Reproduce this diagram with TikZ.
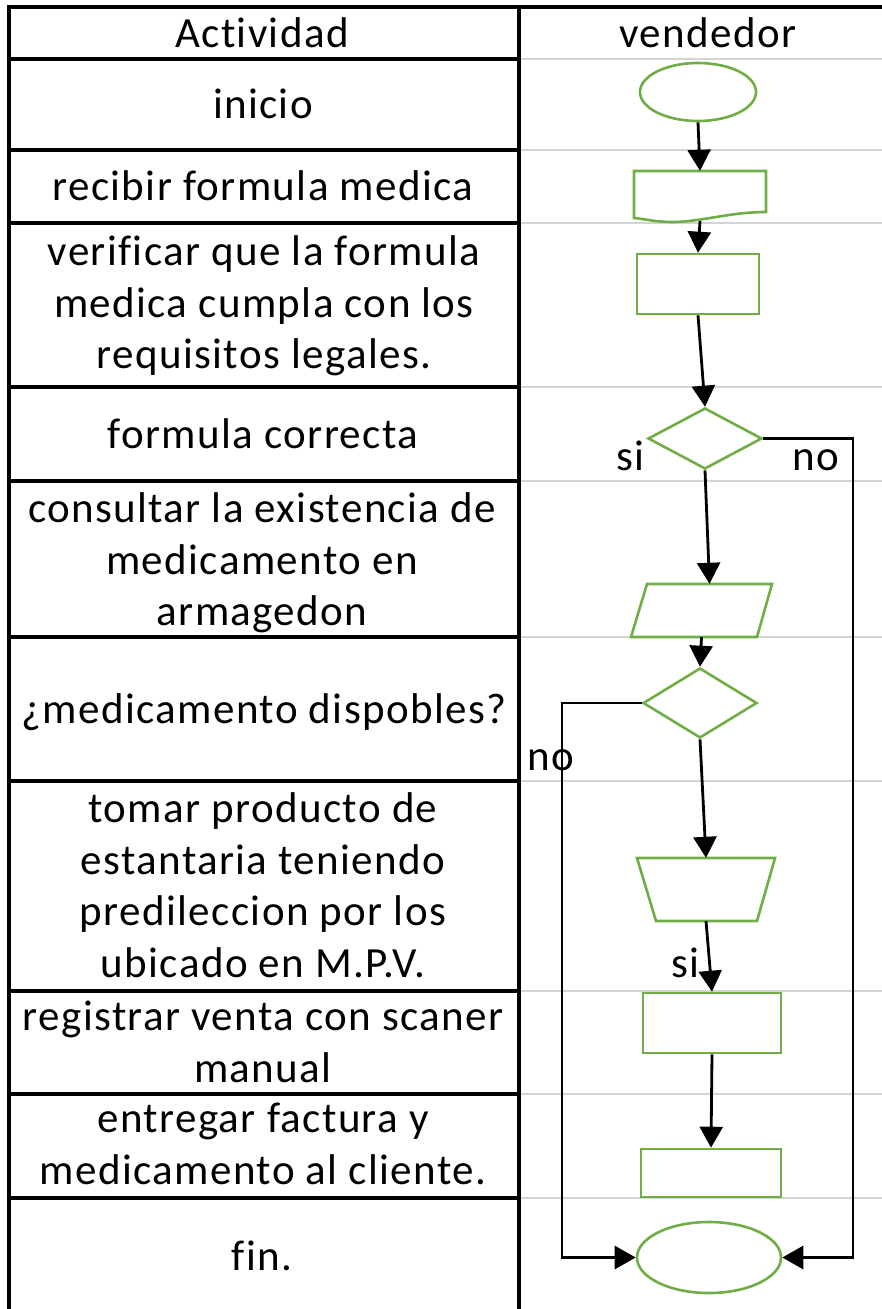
\documentclass[tikz,border=0pt]{standalone}
\usepackage{fontspec}
\setmainfont{Carlito}
\newfontfamily\cellfont{Carlito}[LetterSpace=3.2,Ligatures=NoCommon]
\usetikzlibrary{arrows.meta,shapes.geometric,calc}
\definecolor{grn}{HTML}{70AD47}
\definecolor{gridgrey}{HTML}{D4D4D4}
\begin{document}
\begin{tikzpicture}[x=1pt,y=-1pt,
  txt/.style={font={\cellfont\fontsize{43}{51.5}\selectfont}, align=center, inner sep=0pt},
  tblln/.style={line width=3.4pt, black},
  gridln/.style={line width=2.8pt, gridgrey},
  shp/.style={draw=grn, line width=2.6pt, inner sep=0pt},
  helper/.style={draw=none, inner sep=0pt, rectangle},
  conn/.style={draw, line width=2.8pt, -{Triangle[length=21pt,width=23pt]}}
]
\useasboundingbox (0,0) rectangle (882,1309);

% table
\foreach \yy in {59,150,223,387,481,637,781,991,1094,1198} {
  \draw[gridln] (519,\yy) -- (882,\yy);
  \draw[tblln] (9,\yy) -- (519,\yy);
}
\draw[tblln] (882,7) -- (9,7) -- (9,1309);
\draw[tblln] (519,7) -- (519,1309);

% texts
\node[txt, anchor=base] (hA) at (262,47) {Actividad};
\node[txt, anchor=base] (hV) at (708,47) {vendedor};
\node[txt, anchor=base] (t1) at (263,118) {inicio};
\node[txt, anchor=base] (t2) at (263,200) {recibir formula medica};
\node[txt] (t3) at (264,306) {verificar que la formula\\medica cumpla con los\\requisitos legales.};
\node[txt, anchor=base] (t4) at (263,448) {formula correcta};
\node[txt] (t5) at (262,563) {consultar la existencia de\\medicamento en\\armagedon};
\node[txt, anchor=base] (t6) at (264,723) {¿medicamento dispobles?};
\node[txt] (t7) at (263,885) {tomar producto de\\estantaria teniendo\\predileccion por los\\ubicado en M.P.V.};
\node[txt] (t8) at (263,1042) {registrar venta con scaner\\manual};
\node[txt] (t9) at (263,1144) {entregar factura y\\medicamento al cliente.};
\node[txt, anchor=base] (t10) at (262,1270) {fin.};

% shapes
\node[shp, ellipse, minimum width=116pt, minimum height=58pt] (start) at (698,92) {};
\node[helper, minimum width=132pt, minimum height=47pt] (doc) at (700,194.5) {};
\draw[draw=grn, line width=2.6pt, line join=miter]
  (634,218) -- (634,171) -- (766,171) -- (766,212)
  .. controls (730,212) and (700,222) .. (673,222)
  .. controls (655,222) and (645,219) .. (634,218) -- cycle;
\node[shp, rectangle, minimum width=122pt, minimum height=60pt] (r1) at (698,284) {};
\node[shp, diamond, minimum width=114pt, minimum height=61pt] (d1) at (705,438.5) {};
\node[helper, minimum width=141pt, minimum height=53pt] (par) at (701.5,610.5) {};
\draw[draw=grn, line width=2.6pt, line join=miter]
  (647,584) -- (772,584) -- (757,637) -- (631,637) -- cycle;
\node[shp, diamond, minimum width=114pt, minimum height=70pt] (d2) at (700,703) {};
\node[helper, minimum width=138pt, minimum height=63pt] (trap) at (706,889.5) {};
\draw[draw=grn, line width=2.6pt, line join=miter]
  (637,858) -- (775,858) -- (757,921) -- (656,921) -- cycle;
\node[shp, rectangle, minimum width=138pt, minimum height=60pt] (r2) at (712,1023) {};
\node[shp, rectangle, minimum width=140pt, minimum height=48pt] (r3) at (711,1173) {};
\node[shp, ellipse, minimum width=144pt, minimum height=71pt] (fin) at (709,1257.5) {};

% connectors
\draw[conn] (start.south) -- (doc.north);
\draw[conn] ($(doc.south)+(0,3)$) -- (r1.north);
\draw[conn] (r1.south) -- (d1.north);
\draw[conn] (d1.south) -- ($(par.north)+(8,0)$);
\draw[conn] (par.south) -- (d2.north);
\draw[conn] (d2.south) -- (trap.north);
\draw[conn] (trap.south) -- (r2.north);
\draw[conn] (r2.south) -- (r3.north);
\coordinate (rr) at (853,1257.5);
\coordinate (ll) at (562,1257.5);
\draw[conn] (d1.east) -| (rr) -- (fin.east);
\draw[conn] (d2.west) -| (ll) -- (fin.west);

% labels
\node[txt, anchor=base] (si1) at (630.5,470) {si};
\node[txt, anchor=base] (no1) at (816,470) {no};
\node[txt, anchor=base] (no2) at (550.5,770) {no};
\node[txt, anchor=base] (si2) at (685.5,977) {si};
\end{tikzpicture}
\end{document}
